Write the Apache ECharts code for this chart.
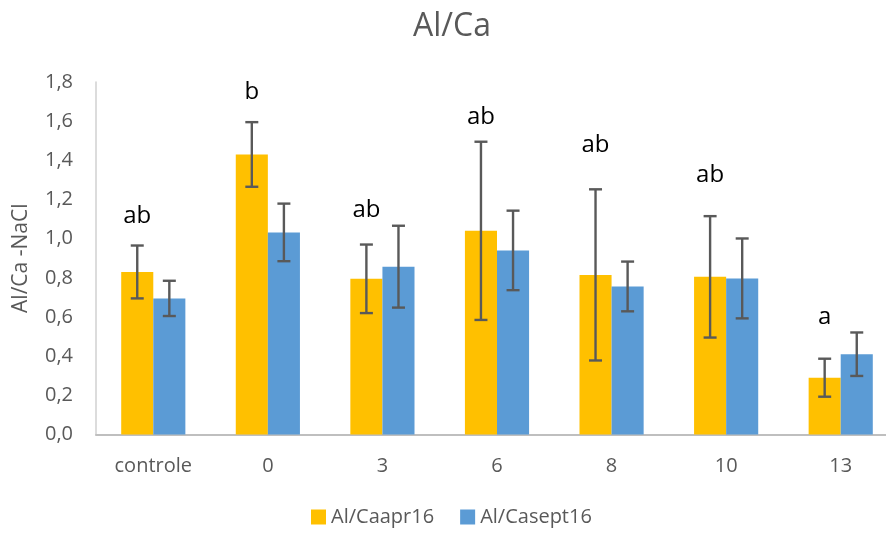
<!DOCTYPE html>
<html>
<head>
<meta charset="utf-8">
<script src="https://cdn.jsdelivr.net/npm/echarts@6/dist/echarts.min.js"></script>
<style>html,body{margin:0;padding:0;background:#fff}#c{width:886px;height:533px}</style>
</head>
<body>
<div id="c"></div>
<script>
var categories = ['controle', '0', '3', '6', '8', '10', '13'];
var seriesNames = ['Al/Caapr16', 'Al/Casept16'];
var apr16 = [0.83, 1.43, 0.795, 1.04, 0.815, 0.805, 0.29];
var apr16Err = [0.135, 0.165, 0.175, 0.455, 0.437, 0.31, 0.097];
var sept16 = [0.695, 1.032, 0.857, 0.94, 0.756, 0.797, 0.41];
var sept16Err = [0.09, 0.147, 0.209, 0.203, 0.127, 0.204, 0.111];
var letters = ['ab', 'b', 'ab', 'ab', 'ab', 'ab', 'a'];
var letterY = [1.117, 1.749, 1.147, 1.622, 1.475, 1.322, 0.597];
var yTicks = [0, 0.2, 0.4, 0.6, 0.8, 1.0, 1.2, 1.4, 1.6, 1.8];

var FONT = 'Open Sans';
var TXT = '#595959';
var BAR_FRAC = 0.28;

function errData(vals, errs) {
  return vals.map(function (v, i) { return [i, v, errs[i]]; });
}

function errRender(side) {
  return function (params, api) {
    var i = api.value(0), v = api.value(1), e = api.value(2);
    var band = api.size([1, 0])[0];
    var c = api.coord([i, v]);
    var x = c[0] + side * band * BAR_FRAC / 2;
    var top = api.coord([i, v + e])[1];
    var bot = api.coord([i, v - e])[1];
    var cap = 6.5;
    var st = { stroke: '#595959', lineWidth: 2.4 };
    return {
      type: 'group',
      children: [
        { type: 'line', shape: { x1: x, y1: top, x2: x, y2: bot }, style: st },
        { type: 'line', shape: { x1: x - cap, y1: top, x2: x + cap, y2: top }, style: st },
        { type: 'line', shape: { x1: x - cap, y1: bot, x2: x + cap, y2: bot }, style: st }
      ]
    };
  };
}

function letterRender(params, api) {
  var i = api.value(0), y = api.value(1);
  var band = api.size([1, 0])[0];
  var c = api.coord([i, y]);
  return {
    type: 'text',
    style: {
      x: c[0] - band * BAR_FRAC / 2,
      y: c[1],
      text: letters[i],
      fill: '#000',
      font: '24px "' + FONT + '"',
      align: 'center',
      verticalAlign: 'middle'
    }
  };
}

var chart = echarts.init(document.getElementById('c'), null, { renderer: 'canvas' });
chart.setOption({
  animation: false,
  backgroundColor: '#fff',
  title: {
    text: 'Al/Ca',
    left: 408,
    top: 6,
    textStyle: { fontFamily: FONT, fontSize: 32, fontWeight: 'normal', color: TXT }
  },
  legend: {
    bottom: 1,
    left: 306,
    itemWidth: 15,
    itemHeight: 15,
    itemGap: 26,
    icon: 'rect',
    data: seriesNames,
    textStyle: { fontFamily: FONT, fontSize: 20, color: TXT }
  },
  grid: { left: 96, top: 82, bottom: 98.5, right: -12, outerBoundsMode: 'none', containLabel: false },
  xAxis: {
    type: 'category',
    data: categories,
    axisLine: { lineStyle: { color: '#BFBFBF', width: 2 } },
    axisTick: { show: false },
    axisLabel: { fontFamily: FONT, fontSize: 20, color: TXT, margin: 22 }
  },
  yAxis: {
    type: 'value',
    min: 0,
    max: 1.8,
    interval: 0.2,
    name: 'Al/Ca -NaCl',
    nameLocation: 'middle',
    nameGap: 64,
    nameTextStyle: { fontFamily: FONT, fontSize: 21, color: TXT },
    axisLine: { show: true, lineStyle: { color: '#D0D0D0', width: 1.5 } },
    axisTick: { show: false },
    splitLine: { show: false },
    axisLabel: {
      fontFamily: FONT, fontSize: 20, color: TXT, margin: 23,
      formatter: function (v) {
        var idx = yTicks.findIndex(function (t) { return Math.abs(t - v) < 1e-6; });
        return idx >= 0 ? yTicks[idx].toFixed(1).replace('.', ',') : '';
      }
    }
  },
  series: [
    { name: seriesNames[0], type: 'bar', data: apr16, barWidth: (BAR_FRAC * 100) + '%', barGap: '0%', itemStyle: { color: '#FFC000' } },
    { name: seriesNames[1], type: 'bar', data: sept16, barWidth: (BAR_FRAC * 100) + '%', barGap: '0%', itemStyle: { color: '#5B9BD5' } },
    { type: 'custom', renderItem: errRender(-1), data: errData(apr16, apr16Err), z: 5, silent: true },
    { type: 'custom', renderItem: errRender(1), data: errData(sept16, sept16Err), z: 5, silent: true },
    { type: 'custom', renderItem: letterRender, data: letterY.map(function (y, i) { return [i, y]; }), z: 6, silent: true }
  ]
});
</script>
</body>
</html>
